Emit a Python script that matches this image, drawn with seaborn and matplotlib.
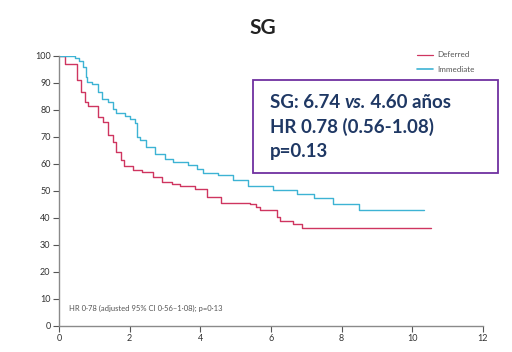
import matplotlib
matplotlib.use('Agg')
import matplotlib.pyplot as plt
import pandas as pd
import seaborn as sns

# Kaplan-Meier steps (years, % alive)
deferred_t = [0, 0.18, 0.52, 0.64, 0.74, 0.83, 1.11, 1.25, 1.40, 1.52, 1.63, 1.75, 1.84,
              2.10, 2.34, 2.67, 2.92, 3.19, 3.42, 3.85, 4.18, 4.60, 5.41, 5.58, 5.69,
              6.18, 6.26, 6.63, 6.87, 6.92, 10.53]
deferred_s = [100, 96.9, 91.0, 86.7, 83.0, 81.5, 77.4, 75.6, 70.6, 68.1, 64.4, 61.4, 59.1,
              57.7, 57.0, 55.0, 53.3, 52.7, 51.9, 50.9, 47.8, 45.7, 45.1, 44.1, 42.9,
              40.4, 38.7, 37.9, 36.1, 36.1, 36.1]
immediate_t = [0, 0.45, 0.57, 0.69, 0.76, 0.81, 0.95, 1.10, 1.21, 1.40, 1.54, 1.63, 1.87,
               2.01, 2.15, 2.20, 2.29, 2.48, 2.72, 3.00, 3.24, 3.66, 3.90, 4.08, 4.51,
               4.93, 5.36, 6.07, 6.73, 7.23, 7.75, 8.49, 10.34]
immediate_s = [100, 99.4, 98.1, 95.9, 92.2, 90.4, 89.8, 86.7, 84.2, 83.0, 80.5, 78.7, 77.7,
               76.8, 75.0, 70.0, 68.8, 66.3, 63.6, 62.0, 60.7, 59.5, 58.3, 56.7, 55.8,
               54.0, 51.9, 50.5, 48.8, 47.4, 45.3, 43.1, 43.1]

x_ticks = [0, 2, 4, 6, 8, 10, 12]
y_ticks = [0, 10, 20, 30, 40, 50, 60, 70, 80, 90, 100]

df = pd.concat([
    pd.DataFrame({'t': deferred_t, 's': deferred_s, 'arm': 'Deferred'}),
    pd.DataFrame({'t': immediate_t, 's': immediate_s, 'arm': 'Immediate'}),
])

sns.set_style('white')
plt.rcParams['font.family'] = ['Lato', 'DejaVu Sans']

fig = plt.figure(figsize=(5.12, 3.52), dpi=100)
ax = fig.add_axes([0.115, 0.074, 0.828, 0.767])

sns.lineplot(data=df, x='t', y='s', hue='arm', palette={'Deferred': '#cf3560', 'Immediate': '#3db3d4'},
             drawstyle='steps-post', linewidth=1.0, ax=ax, legend=False, estimator=None)

ax.set_xlim(0, 12)
ax.set_ylim(0, 100)
ax.set_xticks(x_ticks)
ax.set_yticks(y_ticks)
ax.set_xlabel('')
ax.set_ylabel('')
for side in ['top', 'right']:
    ax.spines[side].set_visible(False)
for side in ['left', 'bottom']:
    ax.spines[side].set_color('#8a8a8a')
    ax.spines[side].set_linewidth(1.0)
ax.tick_params(axis='both', direction='out', length=4, width=0.8, color='#555555',
               labelsize=6.5, labelcolor='#333333', pad=2, left=True, bottom=True)

# legend
ax.plot([0.844, 0.882], [1.004, 1.004], transform=ax.transAxes, color='#cf3560', lw=0.9, clip_on=False)
ax.plot([0.844, 0.882], [0.951, 0.951], transform=ax.transAxes, color='#3db3d4', lw=1.2, clip_on=False)
ax.text(0.892, 1.004, 'Deferred', transform=ax.transAxes, fontsize=5.8, color='#555555', va='center')
ax.text(0.892, 0.951, 'Immediate', transform=ax.transAxes, fontsize=5.8, color='#555555', va='center')

ax.text(0.025, 0.055, 'HR 0·78 (adjusted 95% CI 0·56–1·08); p=0·13', transform=ax.transAxes,
        fontsize=5.5, color='#555555')

fig.text(0.514, 0.92, 'SG', ha='center', va='center', fontsize=15, fontweight='bold', color='#222222')

# summary box
box = plt.Rectangle((253 / 512, 1 - 173 / 352), 245 / 512, 93 / 352, transform=fig.transFigure,
                    fill=True, facecolor='white', edgecolor='#7030a0', linewidth=1.3)
fig.add_artist(box)
navy = '#1f3864'
fs = 13.5
renderer = fig.canvas.get_renderer()
x0 = 270 / 512
y1 = 1 - 103 / 352
pieces = [('SG: 6.74 ', 'normal'), ('vs.', 'italic'), (' 4.60 años', 'normal')]
x = x0
for txt, style in pieces:
    t = fig.text(x, y1, txt, fontsize=fs, fontweight='bold', style=style, color=navy, va='center')
    bb = t.get_window_extent(renderer=renderer)
    x += bb.width / fig.bbox.width
fig.text(x0, 1 - 127 / 352, 'HR 0.78 (0.56-1.08)', fontsize=fs, fontweight='bold',
         color=navy, va='center')
fig.text(x0, 1 - 151 / 352, 'p=0.13', fontsize=fs, fontweight='bold', color=navy, va='center')

fig.savefig('out.png', dpi=100)
